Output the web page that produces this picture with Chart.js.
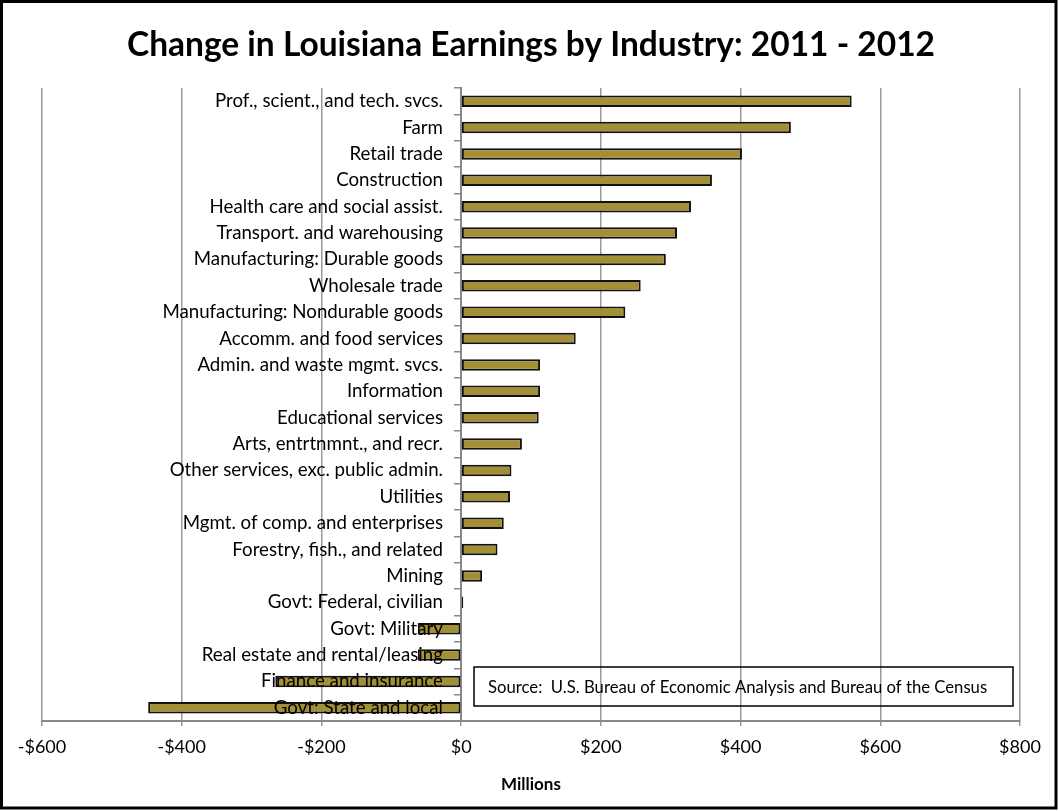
<!DOCTYPE html>
<html>
<head>
<meta charset="utf-8">
<script src="https://cdn.jsdelivr.net/npm/chart.js@4.4.1/dist/chart.umd.min.js"></script>
<style>
  html, body { margin: 0; padding: 0; background: #fff; }
  canvas { display: block; }
</style>
</head>
<body>
<canvas id="c" width="1059" height="811"></canvas>
<script>
const categories = [
  "Prof., scient., and tech. svcs.",
  "Farm",
  "Retail trade",
  "Construction",
  "Health care and social assist.",
  "Transport. and warehousing",
  "Manufacturing: Durable goods",
  "Wholesale trade",
  "Manufacturing: Nondurable goods",
  "Accomm. and food services",
  "Admin. and waste mgmt. svcs.",
  "Information",
  "Educational services",
  "Arts, entrtnmnt., and recr.",
  "Other services, exc. public admin.",
  "Utilities",
  "Mgmt. of comp. and enterprises",
  "Forestry, fish., and related",
  "Mining",
  "Govt: Federal, civilian",
  "Govt: Military",
  "Real estate and rental/leasing",
  "Finance and insurance",
  "Govt: State and local"
];
const earningsChange = [559, 472, 402, 359, 329, 309, 293, 257, 235, 164, 113, 113, 111, 87, 72, 70, 61, 52, 30, 3, -62, -62, -266, -448];
const xTickValues = [-600, -400, -200, 0, 200, 400, 600, 800];
const titleText = "Change in Louisiana Earnings by Industry: 2011 - 2012";
const axisTitle = "Millions";
const sourceText = "Source:  U.S. Bureau of Economic Analysis and Bureau of the Census";

const FONT = "Lato, 'Open Sans', sans-serif";

const framePlugin = {
  id: 'frame',
  beforeDraw(chart) {
    const ctx = chart.ctx;
    ctx.save();
    ctx.fillStyle = '#fff';
    ctx.fillRect(0, 0, chart.width, chart.height);
    ctx.restore();
  },
  afterDraw(chart) {
    const ctx = chart.ctx;
    const a = chart.chartArea;
    ctx.save();
    // source box
    const bw = 539, bh = 39;
    const bx = a.right - 7 - bw, by = a.bottom - 15 - bh;
    ctx.strokeStyle = '#000';
    ctx.lineWidth = 1.5;
    ctx.strokeRect(bx, by, bw, bh);
    ctx.fillStyle = '#000';
    ctx.font = "16.7px " + FONT;
    ctx.textBaseline = 'middle';
    ctx.textAlign = 'left';
    ctx.fillText(sourceText, bx + 14, by + bh / 2 + 1);
    // outer frame
    ctx.lineWidth = 3;
    ctx.strokeStyle = '#000';
    ctx.strokeRect(1.5, 1.5, 1054.5, 806.5);
    ctx.restore();
  }
};

new Chart(document.getElementById('c'), {
  type: 'bar',
  data: {
    labels: categories,
    datasets: [{
      data: earningsChange,
      backgroundColor: '#A38F35',
      borderColor: '#111',
      borderWidth: 2,
      borderSkipped: false,
      barPercentage: 0.44,
      categoryPercentage: 1.0,
      yAxisID: 'y'
    }]
  },
  options: {
    indexAxis: 'y',
    responsive: false,
    animation: false,
    devicePixelRatio: 1,
    layout: { padding: { top: 0, left: 42, right: 39, bottom: 16 } },
    plugins: {
      legend: { display: false },
      tooltip: { enabled: false },
      title: {
        display: true,
        text: titleText,
        color: '#000',
        font: { family: FONT, size: 33.5, weight: 'bold', lineHeight: 1.2 },
        padding: { top: 25, bottom: 22.8 }
      }
    },
    scales: {
      x: {
        type: 'linear',
        min: -600,
        max: 800,
        afterBuildTicks(scale) {
          scale.ticks = xTickValues.map(v => ({ value: v }));
        },
        ticks: {
          color: '#000',
          font: { family: FONT, size: 18 },
          padding: 10,
          callback: v => (v < 0 ? '-$' + Math.abs(v) : '$' + v)
        },
        grid: {
          color: '#999',
          lineWidth: 1.5,
          tickLength: 5,
          drawTicks: true
        },
        border: { color: '#888', width: 2 },
        title: {
          display: true,
          text: axisTitle,
          color: '#000',
          font: { family: FONT, size: 17, weight: 'bold', lineHeight: 1.2 },
          padding: { top: 7, bottom: 0 }
        }
      },
      y: {
        type: 'category',
        position: { x: 0 },
        offset: true,
        ticks: { display: false },
        grid: {
          offset: true,
          drawOnChartArea: false,
          drawTicks: true,
          tickLength: 6,
          color: '#888',
          lineWidth: 1.5
        },
        border: { color: '#888', width: 2 }
      },
      yLabels: {
        type: 'category',
        axis: 'y',
        position: { x: -26 },
        offset: true,
        grid: { display: false, drawTicks: false, offset: true },
        border: { display: false },
        ticks: {
          color: '#000',
          font: { family: FONT, size: 18.7 },
          padding: 0,
          z: 1,
          autoSkip: false
        }
      }
    }
  },
  plugins: [framePlugin]
});
</script>
</body>
</html>
